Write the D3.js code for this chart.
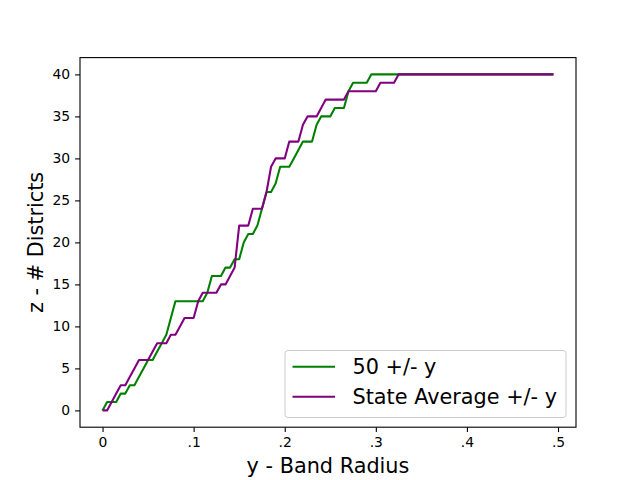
<!DOCTYPE html>
<html>
<head>
<meta charset="utf-8">
<script src="https://cdn.jsdelivr.net/npm/d3@7"></script>
<style>
  body { margin: 0; background: #fff; }
  svg text { font-family: "DejaVu Sans", sans-serif; }
</style>
</head>
<body>
<div id="chart"></div>
<script>
// band radius steps, 0 .. 0.495
const radius = d3.range(100).map(i => i * 0.005);
// districts inside the band, 50 +/- y
const fifty = [0,1,1,1,2,2,3,3,4,5,6,6,7,8,9,11,13,13,13,13,
  13,13,13,14,16,16,16,17,17,18,18,20,21,21,22,24,26,26,27,29,
  29,29,30,31,32,32,32,34,35,35,35,36,36,36,38,39,39,39,39,40,
  40,40,40,40,40,40,40,40,40,40,40,40,40,40,40,40,40,40,40,40,
  40,40,40,40,40,40,40,40,40,40,40,40,40,40,40,40,40,40,40,40];
// districts inside the band, state average +/- y
const stateAvg = [0,0,1,2,3,3,4,5,6,6,6,7,8,8,8,9,9,10,11,11,
  11,13,14,14,14,14,15,15,16,17,22,22,22,24,24,24,26,29,30,30,
  30,32,32,32,34,35,35,35,36,37,37,37,37,37,38,38,38,38,38,38,
  38,39,39,39,39,40,40,40,40,40,40,40,40,40,40,40,40,40,40,40,
  40,40,40,40,40,40,40,40,40,40,40,40,40,40,40,40,40,40,40,40];
const seriesNames = ["50 +/- y", "State Average +/- y"];
const xTicks = [0, 0.1, 0.2, 0.3, 0.4, 0.5];
const xTickLabels = ["0", ".1", ".2", ".3", ".4", ".5"];
const yTicks = [0, 5, 10, 15, 20, 25, 30, 35, 40];

const width = 640, height = 480;
const margin = {top: 57.6, right: 64, bottom: 52.8, left: 80};
const colors = ["#008000", "#800080"];

const svg = d3.select("#chart").append("svg")
    .attr("width", width)
    .attr("height", height);

const xmax = d3.max(radius);
const x = d3.scaleLinear()
    .domain([-0.05 * xmax, xmax * 1.05])
    .range([margin.left, width - margin.right]);
const y = d3.scaleLinear()
    .domain([-2, 42])
    .range([height - margin.bottom, margin.top]);

const line = d3.line()
    .x((d, i) => x(radius[i]))
    .y(d => y(d));

[fifty, stateAvg].forEach((s, k) => {
  svg.append("path")
      .datum(s)
      .attr("fill", "none")
      .attr("stroke", colors[k])
      .attr("stroke-width", 2.08)
      .attr("stroke-linejoin", "round")
      .attr("d", line);
});

const xAxis = svg.append("g")
    .attr("transform", "translate(0," + (height - margin.bottom) + ")")
    .call(d3.axisBottom(x).tickValues(xTicks)
        .tickFormat((d, i) => xTickLabels[i]).tickSize(4.9).tickPadding(4.9));
const yAxis = svg.append("g")
    .attr("transform", "translate(" + margin.left + ",0)")
    .call(d3.axisLeft(y).tickValues(yTicks).tickSize(4.9).tickPadding(4.9));

[xAxis, yAxis].forEach(g => {
  g.select(".domain").remove();
  g.selectAll("line").attr("stroke", "#000").attr("stroke-width", 1.1);
  g.selectAll("text").attr("font-size", 13.9).attr("fill", "#000")
      .attr("font-family", "DejaVu Sans");
});

// frame
svg.append("rect")
    .attr("x", margin.left)
    .attr("y", margin.top)
    .attr("width", width - margin.left - margin.right)
    .attr("height", height - margin.top - margin.bottom)
    .attr("fill", "none")
    .attr("stroke", "#000")
    .attr("stroke-width", 1.1);

svg.append("text")
    .attr("x", (margin.left + width - margin.right) / 2)
    .attr("y", 473)
    .attr("text-anchor", "middle")
    .attr("font-size", 20.8)
    .text("y - Band Radius");

svg.append("text")
    .attr("transform", "translate(42.5," + (margin.top + height - margin.bottom) / 2 + ") rotate(-90)")
    .attr("text-anchor", "middle")
    .attr("font-size", 20.8)
    .text("z - # Districts");

// legend
const legend = svg.append("g");
legend.append("rect")
    .attr("x", 285).attr("y", 350.5)
    .attr("width", 281).attr("height", 67)
    .attr("rx", 3)
    .attr("fill", "#fff").attr("fill-opacity", 0.8)
    .attr("stroke", "#ccc").attr("stroke-width", 1);
seriesNames.forEach((name, k) => {
  const ly = 366.7 + k * 30;
  legend.append("line")
      .attr("x1", 292.5).attr("x2", 335)
      .attr("y1", ly).attr("y2", ly)
      .attr("stroke", colors[k]).attr("stroke-width", 2.08);
  legend.append("text")
      .attr("x", 352.5).attr("y", ly + 7.5)
      .attr("font-size", 20.8)
      .text(name);
});
</script>
</body>
</html>
